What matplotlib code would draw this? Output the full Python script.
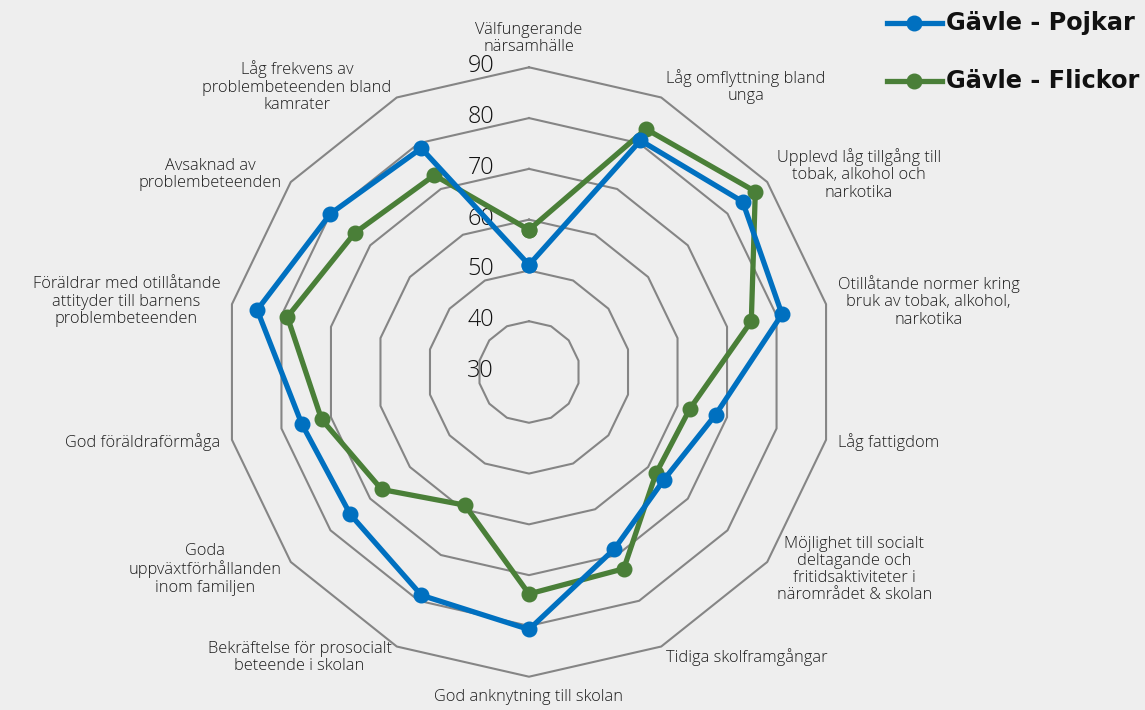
import numpy as np
import matplotlib
matplotlib.use("Agg")
import matplotlib.pyplot as plt
from matplotlib.lines import Line2D

categories = [
    "Välfungerande\nnärsamhälle",
    "Låg omflyttning bland\nunga",
    "Upplevd låg tillgång till\ntobak, alkohol och\nnarkotika",
    "Otillåtande normer kring\nbruk av tobak, alkohol,\nnarkotika",
    "Låg fattigdom",
    "Möjlighet till socialt\ndeltagande och\nfritidsaktiviteter i\nnärområdet & skolan",
    "Tidiga skolframgångar",
    "God anknytning till skolan",
    "Bekräftelse för prosocialt\nbeteende i skolan",
    "Goda\nuppväxtförhållanden\ninom familjen",
    "God föräldraförmåga",
    "Föräldrar med otillåtande\nattityder till barnens\nproblembeteenden",
    "Avsaknad av\nproblembeteenden",
    "Låg frekvens av\nproblembeteenden bland\nkamrater",
]
pojkar = [51.1, 80.6, 83.8, 81.1, 67.7, 64.0, 68.7, 80.7, 78.8, 75.0, 75.9, 84.9, 80.0, 78.9]
flickor = [58.0, 83.1, 87.0, 74.9, 62.5, 62.0, 73.0, 73.7, 59.1, 67.1, 71.9, 78.8, 73.9, 73.0]
series_names = ["Gävle - Pojkar", "Gävle - Flickor"]
ticks = [30, 40, 50, 60, 70, 80, 90]

BLUE = "#0070c0"
GREEN = "#4a7f38"
GRID = "#858585"
FONT = "Open Sans"

W, H = 1145, 710
fig = plt.figure(figsize=(W / 100, H / 100), dpi=100)
fig.patch.set_facecolor("#eeeeee")

cx, cy, R = 529, 372, 304.7
ax = fig.add_axes([(cx - R) / W, (H - cy - R) / H, 2 * R / W, 2 * R / H], projection="polar")
ax.set_facecolor("none")
ax.set_theta_zero_location("N")
ax.set_theta_direction(-1)
ax.set_ylim(ticks[0], ticks[-1])
ax.grid(False)
ax.spines["polar"].set_visible(False)
ax.set_xticks([])
ax.set_yticks([])

n = len(categories)
ang = np.arange(n) * 2 * np.pi / n
ang_c = np.concatenate([ang, ang[:1]])

for t in ticks[1:]:
    ax.plot(ang_c, [t] * (n + 1), color=GRID, lw=1.5, zorder=1, clip_on=False)

for t in ticks:
    ax.annotate(str(t), xy=(0, t), xytext=(-35, 1), textcoords="offset pixels",
                ha="right", va="center", fontsize=16.8, color="#111111",
                family=FONT, fontweight="light", zorder=2)

for vals, col in [(flickor, GREEN), (pojkar, BLUE)]:
    v = np.concatenate([vals, vals[:1]])
    ax.plot(ang_c, v, color=col, lw=3.8, marker="o", markersize=10.5,
            zorder=3, clip_on=False)

pad = 12
for a, lab in zip(ang, categories):
    s, c = np.sin(a), np.cos(a)
    if abs(s) < 0.1:
        ha = "center"
        va = "bottom" if c > 0 else "top"
    else:
        ha = "left" if s > 0 else "right"
        va = "center"
    ax.annotate(lab, xy=(a, ticks[-1]), xytext=(pad * s, pad * c),
                textcoords="offset pixels", ha=ha, va=va, multialignment="center",
                fontsize=11.8, color="#1c1c1c", family=FONT, fontweight="light",
                linespacing=1.1, annotation_clip=False)

# legend
for i, (name, col) in enumerate(zip(series_names, [BLUE, GREEN])):
    y = 1 - (23 + i * 58) / H
    fig.add_artist(Line2D([887 / W, 942 / W], [y, y], transform=fig.transFigure,
                          color=col, lw=3.8))
    fig.add_artist(Line2D([914 / W], [y], transform=fig.transFigure, color=col,
                          marker="o", markersize=10.5))
    fig.text(946 / W, y, name, ha="left", va="center", fontsize=17.3,
             fontweight="bold", color="#111111", family="DejaVu Sans")

fig.savefig("out.png", dpi=100, facecolor=fig.get_facecolor())
